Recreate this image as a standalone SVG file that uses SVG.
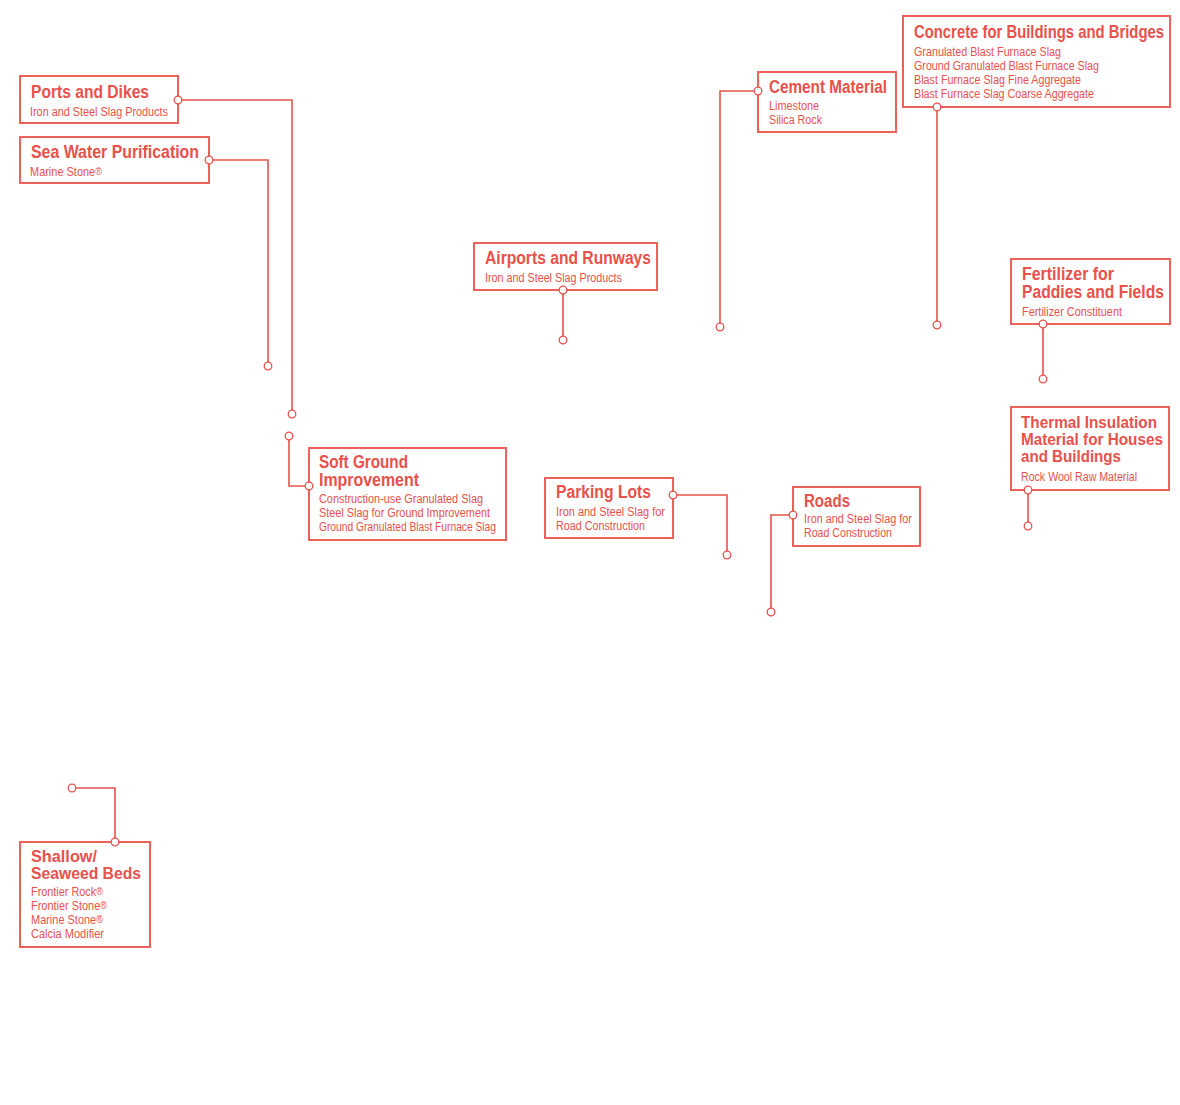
<svg xmlns="http://www.w3.org/2000/svg" width="1180" height="1105" viewBox="0 0 1180 1105">
<style>
.box{fill:#fff;stroke:#ec615a;stroke-width:2}
.t{font-family:"Liberation Sans",Arial,sans-serif;font-weight:bold;font-size:18px;fill:#e9514b}
.t2{font-size:17px}
.s{font-family:"Liberation Sans",Arial,sans-serif;font-size:12px;fill:#e9514b}
.r{font-size:10px}
.ln{fill:none;stroke:#e9514b;stroke-width:1.6}
.dot{fill:#fff;stroke:#e9514b;stroke-width:1.3}
</style>
<rect width="1180" height="1105" fill="#fff"/>
<g id="connectors">
<polyline class="ln" points="178,100 292,100 292,414"/>
<polyline class="ln" points="209,160 268,160 268,366"/>
<polyline class="ln" points="937,107 937,325"/>
<polyline class="ln" points="758,91 720,91 720,327"/>
<polyline class="ln" points="563,290 563,340"/>
<polyline class="ln" points="1043,324 1043,379"/>
<polyline class="ln" points="1028,490 1028,526"/>
<polyline class="ln" points="309,486 289,486 289,436"/>
<polyline class="ln" points="673,495 727,495 727,555"/>
<polyline class="ln" points="793,515 771,515 771,612"/>
<polyline class="ln" points="115,842 115,788 72,788"/>
</g>
<g id="ports">
<rect class="box" x="20" y="76" width="158" height="47"/>
<text class="t" x="31" y="98" textLength="118" lengthAdjust="spacingAndGlyphs">Ports and Dikes</text>
<text class="s" x="30" y="116" textLength="138" lengthAdjust="spacingAndGlyphs">Iron and Steel Slag Products</text>
</g>
<g id="seawater">
<rect class="box" x="20" y="137" width="189" height="46"/>
<text class="t" x="31" y="158" textLength="168" lengthAdjust="spacingAndGlyphs">Sea Water Purification</text>
<text class="s" transform="translate(30,176) scale(0.914,1)">Marine Stone<tspan class="r" dy="-1">®</tspan></text>
</g>
<g id="concrete">
<rect class="box" x="903" y="16" width="267" height="91"/>
<text class="t" transform="translate(914,38) scale(0.825,1)" x="0" y="0" textLength="303" lengthAdjust="spacingAndGlyphs">Concrete for Buildings and Bridges</text>
<text class="s" x="914" y="56" textLength="147" lengthAdjust="spacingAndGlyphs">Granulated Blast Furnace Slag</text>
<text class="s" x="914" y="70" textLength="185" lengthAdjust="spacingAndGlyphs">Ground Granulated Blast Furnace Slag</text>
<text class="s" x="914" y="84" textLength="167" lengthAdjust="spacingAndGlyphs">Blast Furnace Slag Fine Aggregate</text>
<text class="s" x="914" y="98" textLength="180" lengthAdjust="spacingAndGlyphs">Blast Furnace Slag Coarse Aggregate</text>
</g>
<g id="cement">
<rect class="box" x="758" y="72" width="138" height="60"/>
<text class="t" x="769" y="93" textLength="118" lengthAdjust="spacingAndGlyphs">Cement Material</text>
<text class="s" x="769" y="110" textLength="50" lengthAdjust="spacingAndGlyphs">Limestone</text>
<text class="s" x="769" y="124" textLength="53" lengthAdjust="spacingAndGlyphs">Silica Rock</text>
</g>
<g id="airports">
<rect class="box" x="474" y="243" width="183" height="47"/>
<text class="t" x="485" y="264" textLength="166" lengthAdjust="spacingAndGlyphs">Airports and Runways</text>
<text class="s" x="485" y="282" textLength="137" lengthAdjust="spacingAndGlyphs">Iron and Steel Slag Products</text>
</g>
<g id="fertilizer">
<rect class="box" x="1011" y="259" width="159" height="65"/>
<text class="t" x="1022" y="280" textLength="92" lengthAdjust="spacingAndGlyphs">Fertilizer for</text>
<text class="t" transform="translate(1022,298) scale(0.871,1)" x="0" y="0" textLength="163" lengthAdjust="spacingAndGlyphs">Paddies and Fields</text>
<text class="s" x="1022" y="316" textLength="100" lengthAdjust="spacingAndGlyphs">Fertilizer Constituent</text>
</g>
<g id="thermal">
<rect class="box" x="1011" y="407" width="158" height="83"/>
<text class="t t2" x="1021" y="428" textLength="136" lengthAdjust="spacingAndGlyphs">Thermal Insulation</text>
<text class="t t2" x="1021" y="445" textLength="142" lengthAdjust="spacingAndGlyphs">Material for Houses</text>
<text class="t t2" x="1021" y="462" textLength="100" lengthAdjust="spacingAndGlyphs">and Buildings</text>
<text class="s" x="1021" y="481" textLength="116" lengthAdjust="spacingAndGlyphs">Rock Wool Raw Material</text>
</g>
<g id="softground">
<rect class="box" x="309" y="448" width="197" height="92"/>
<text class="t" x="319" y="468" textLength="89" lengthAdjust="spacingAndGlyphs">Soft Ground</text>
<text class="t" x="319" y="486" textLength="100" lengthAdjust="spacingAndGlyphs">Improvement</text>
<text class="s" x="319" y="503" textLength="164" lengthAdjust="spacingAndGlyphs">Construction-use Granulated Slag</text>
<text class="s" x="319" y="517" textLength="171" lengthAdjust="spacingAndGlyphs">Steel Slag for Ground Improvement</text>
<text class="s" x="319" y="531" textLength="177" lengthAdjust="spacingAndGlyphs">Ground Granulated Blast Furnace Slag</text>
</g>
<g id="parking">
<rect class="box" x="545" y="478" width="128" height="60"/>
<text class="t" x="556" y="498" textLength="95" lengthAdjust="spacingAndGlyphs">Parking Lots</text>
<text class="s" x="556" y="516" textLength="109" lengthAdjust="spacingAndGlyphs">Iron and Steel Slag for</text>
<text class="s" x="556" y="530" textLength="89" lengthAdjust="spacingAndGlyphs">Road Construction</text>
</g>
<g id="roads">
<rect class="box" x="793" y="487" width="127" height="59"/>
<text class="t" x="804" y="507" textLength="46" lengthAdjust="spacingAndGlyphs">Roads</text>
<text class="s" x="804" y="523" textLength="108" lengthAdjust="spacingAndGlyphs">Iron and Steel Slag for</text>
<text class="s" x="804" y="537" textLength="88" lengthAdjust="spacingAndGlyphs">Road Construction</text>
</g>
<g id="shallow">
<rect class="box" x="20" y="842" width="130" height="105"/>
<text class="t t2" x="31" y="862" textLength="66" lengthAdjust="spacingAndGlyphs">Shallow/</text>
<text class="t t2" x="31" y="879" textLength="110" lengthAdjust="spacingAndGlyphs">Seaweed Beds</text>
<text class="s" transform="translate(31,896) scale(0.907,1)">Frontier Rock<tspan class="r" dy="-1">®</tspan></text>
<text class="s" transform="translate(31,910) scale(0.911,1)">Frontier Stone<tspan class="r" dy="-1">®</tspan></text>
<text class="s" transform="translate(31,924) scale(0.914,1)">Marine Stone<tspan class="r" dy="-1">®</tspan></text>
<text class="s" x="31" y="938" textLength="73" lengthAdjust="spacingAndGlyphs">Calcia Modifier</text>
</g>
<g id="dots">
<circle class="dot" cx="178" cy="100" r="3.8"/><circle class="dot" cx="292" cy="414" r="3.8"/>
<circle class="dot" cx="209" cy="160" r="3.8"/><circle class="dot" cx="268" cy="366" r="3.8"/>
<circle class="dot" cx="937" cy="107" r="3.8"/><circle class="dot" cx="937" cy="325" r="3.8"/>
<circle class="dot" cx="758" cy="91" r="3.8"/><circle class="dot" cx="720" cy="327" r="3.8"/>
<circle class="dot" cx="563" cy="290" r="3.8"/><circle class="dot" cx="563" cy="340" r="3.8"/>
<circle class="dot" cx="1043" cy="324" r="3.8"/><circle class="dot" cx="1043" cy="379" r="3.8"/>
<circle class="dot" cx="1028" cy="490" r="3.8"/><circle class="dot" cx="1028" cy="526" r="3.8"/>
<circle class="dot" cx="309" cy="486" r="3.8"/><circle class="dot" cx="289" cy="436" r="3.8"/>
<circle class="dot" cx="673" cy="495" r="3.8"/><circle class="dot" cx="727" cy="555" r="3.8"/>
<circle class="dot" cx="793" cy="515" r="3.8"/><circle class="dot" cx="771" cy="612" r="3.8"/>
<circle class="dot" cx="115" cy="842" r="3.8"/><circle class="dot" cx="72" cy="788" r="3.8"/>
</g>
</svg>
